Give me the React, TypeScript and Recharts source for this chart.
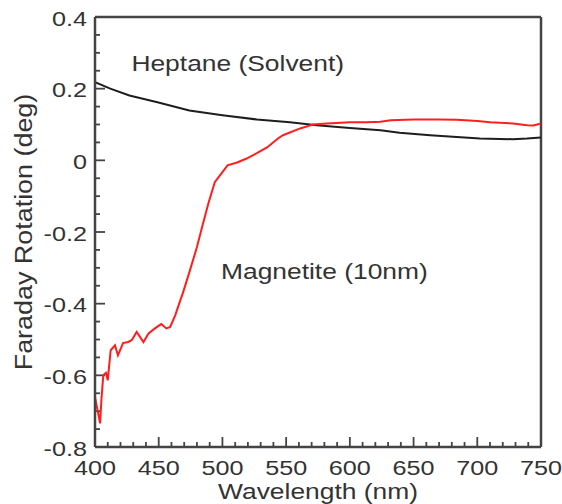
import React from 'react';
import { LineChart, Line, XAxis, YAxis, ReferenceLine, ReferenceDot } from 'recharts';

// Magnetite (10nm) — red curve
const magnetiteWavelength = [
  400, 402, 404, 405, 406.5, 408.6, 410, 412.3, 415.7, 418, 422, 426, 428.8, 432.7, 438, 442, 447, 452,
  456, 459, 463, 467, 469, 474.5, 480, 484, 489, 494, 500, 504, 511.5, 519, 527, 535, 543.6, 547.5, 561,
  571, 582, 600, 613, 624, 632, 650, 670, 684, 700, 710, 728, 739, 744, 750,
];
const magnetiteRotation = [
  -0.661, -0.697, -0.734, -0.67, -0.6, -0.593, -0.614, -0.53, -0.516, -0.544, -0.51, -0.507, -0.502, -0.479,
  -0.507, -0.483, -0.469, -0.457, -0.469, -0.465, -0.432, -0.39, -0.37, -0.307, -0.242, -0.187, -0.12,
  -0.061, -0.033, -0.014, -0.006, 0.005, 0.02, 0.036, 0.061, 0.07, 0.089, 0.1, 0.103, 0.106, 0.106, 0.108,
  0.112, 0.114, 0.114, 0.113, 0.11, 0.106, 0.103, 0.098, 0.097, 0.103,
];

// Heptane (Solvent) — black curve
const heptaneWavelength = [400, 412, 427, 449, 474, 500, 527, 553, 574, 600, 624, 639, 663, 702, 728, 739, 750];
const heptaneRotation = [0.218, 0.2, 0.181, 0.162, 0.139, 0.126, 0.114, 0.106, 0.098, 0.09, 0.084, 0.077, 0.07, 0.061, 0.059, 0.061, 0.064];

const xMajorTicks = [400, 450, 500, 550, 600, 650, 700, 750];
const xMinorTicks = [410, 420, 430, 440, 460, 470, 480, 490, 510, 520, 530, 540, 560, 570, 580, 590, 610, 620, 630, 640, 660, 670, 680, 690, 710, 720, 730, 740];
const yMajorTicks = [-0.8, -0.6, -0.4, -0.2, 0, 0.2, 0.4];
const yMajorLabels = ['-0.8', '-0.6', '-0.4', '-0.2', '0', '0.2', '0.4'];
const yMinorTicks = [-0.75, -0.7, -0.65, -0.55, -0.5, -0.45, -0.35, -0.3, -0.25, -0.15, -0.1, -0.05, 0.05, 0.1, 0.15, 0.25, 0.3, 0.35];

const xTitle = 'Wavelength (nm)';
const yTitle = 'Faraday Rotation (deg)';
const heptaneLabel = 'Heptane (Solvent)';
const magnetiteLabel = 'Magnetite (10nm)';

const X_DOMAIN: [number, number] = [400, 750];
const Y_DOMAIN: [number, number] = [-0.8, 0.4];
const CHART_W = 562;
const CHART_H = 504;
const MARGIN = { top: 17, right: 21, left: 0, bottom: 0 };
const Y_AXIS_W = 95;
const X_AXIS_H = 57;
const PLOT_W = CHART_W - MARGIN.left - MARGIN.right - Y_AXIS_W;
const PLOT_H = CHART_H - MARGIN.top - MARGIN.bottom - X_AXIS_H;

// inward tick lengths in pixels, converted to data units
const MAJOR_PX = 10;
const MINOR_PX = 5;
const xTickLen = (px: number) => (px / PLOT_H) * (Y_DOMAIN[1] - Y_DOMAIN[0]);
const yTickLen = (px: number) => (px / PLOT_W) * (X_DOMAIN[1] - X_DOMAIN[0]);

const magnetiteData = magnetiteWavelength.map((wl, i) => ({ wl, v: magnetiteRotation[i] }));
const heptaneData = heptaneWavelength.map((wl, i) => ({ wl, v: heptaneRotation[i] }));

// tick marks as tiny two-point series drawn through the chart's scales
const xTickMarks = [
  ...xMajorTicks.map((t) => ({ id: `x${t}`, data: [{ wl: t, v: Y_DOMAIN[0] }, { wl: t, v: Y_DOMAIN[0] + xTickLen(MAJOR_PX) }] })),
  ...xMinorTicks.map((t) => ({ id: `x${t}`, data: [{ wl: t, v: Y_DOMAIN[0] }, { wl: t, v: Y_DOMAIN[0] + xTickLen(MINOR_PX) }] })),
];
const yTickMarks = [
  ...yMajorTicks.map((t) => ({ id: `y${t}`, data: [{ wl: X_DOMAIN[0], v: t }, { wl: X_DOMAIN[0] + yTickLen(MAJOR_PX), v: t }] })),
  ...yMinorTicks.map((t) => ({ id: `y${t}`, data: [{ wl: X_DOMAIN[0], v: t }, { wl: X_DOMAIN[0] + yTickLen(MINOR_PX), v: t }] })),
];

const FONT = 'Liberation Sans, Arial, sans-serif';
const TEXT = '#333';
const AXIS = '#444';

const XTickLabel = (props: any) => {
  const x = Number(props.x);
  const y = Number(props.y);
  return (
    <g transform={`translate(${x},${y + 28}) scale(1.2,1)`}>
      <text x={0} y={0} textAnchor="middle" fontFamily={FONT} fontSize={21} fill={TEXT}>
        {props.payload.value}
      </text>
    </g>
  );
};

const YTickLabel = (props: any) => {
  const x = Number(props.x);
  const y = Number(props.y);
  const idx = yMajorTicks.findIndex((t) => Math.abs(t - props.payload.value) < 1e-6);
  return (
    <g transform={`translate(${x - 8},${y + 8.5}) scale(1.2,1)`}>
      <text x={0} y={0} textAnchor="end" fontFamily={FONT} fontSize={21} fill={TEXT}>
        {idx >= 0 ? yMajorLabels[idx] : props.payload.value}
      </text>
    </g>
  );
};

const XTitle = (props: any) => {
  const vb = props.viewBox;
  return (
    <g transform={`translate(${vb.x + vb.width / 2},${vb.y + 52}) scale(1.2,1)`}>
      <text x={0} y={0} textAnchor="middle" fontFamily={FONT} fontSize={22} fill={TEXT}>
        {xTitle}
      </text>
    </g>
  );
};

const YTitle = (props: any) => {
  const vb = props.viewBox;
  return (
    <g transform={`translate(32,${vb.y + vb.height / 2}) rotate(-90) scale(1.17,1)`}>
      <text x={0} y={0} textAnchor="middle" fontFamily={FONT} fontSize={23} fill={TEXT}>
        {yTitle}
      </text>
    </g>
  );
};

const makeAnno = (txt: string) => (props: any) => {
  const vb = props.viewBox;
  return (
    <g transform={`translate(${vb.x + (vb.width || 0) / 2},${vb.y + (vb.height || 0) / 2}) scale(1.2,1)`}>
      <text x={0} y={0} textAnchor="middle" fontFamily={FONT} fontSize={22} fill={TEXT}>
        {txt}
      </text>
    </g>
  );
};

export default function App() {
  return (
    <div style={{ position: 'absolute', left: 0, top: 0 }}>
      <LineChart width={CHART_W} height={CHART_H} margin={MARGIN}>
        <XAxis
          dataKey="wl"
          type="number"
          domain={X_DOMAIN}
          ticks={xMajorTicks}
          interval={0}
          allowDataOverflow
          height={X_AXIS_H}
          tickSize={0}
          tickMargin={0}
          tickLine={false}
          axisLine={{ stroke: AXIS, strokeWidth: 2.5 }}
          tick={(p: any) => <XTickLabel {...p} />}
          label={{ content: (p: any) => <XTitle {...p} /> } as any}
        />
        <YAxis
          type="number"
          domain={Y_DOMAIN}
          ticks={yMajorTicks}
          interval={0}
          allowDataOverflow
          width={Y_AXIS_W}
          tickSize={0}
          tickMargin={0}
          tickLine={false}
          axisLine={{ stroke: AXIS, strokeWidth: 2.5 }}
          tick={(p: any) => <YTickLabel {...p} />}
          label={{ content: (p: any) => <YTitle {...p} /> } as any}
        />
        <ReferenceLine y={Y_DOMAIN[1]} stroke={AXIS} strokeWidth={2.5} />
        <ReferenceLine x={X_DOMAIN[1]} stroke={AXIS} strokeWidth={2.5} />
        {xTickMarks.map((m) => (
          <Line key={m.id} data={m.data} dataKey="v" type="linear" stroke={AXIS} strokeWidth={1.8} dot={false} activeDot={false} isAnimationActive={false} legendType="none" />
        ))}
        {yTickMarks.map((m) => (
          <Line key={m.id} data={m.data} dataKey="v" type="linear" stroke={AXIS} strokeWidth={1.8} dot={false} activeDot={false} isAnimationActive={false} legendType="none" />
        ))}
        <Line data={heptaneData} dataKey="v" type="linear" stroke="#1e1e1e" strokeWidth={2} dot={false} isAnimationActive={false} />
        <Line data={magnetiteData} dataKey="v" type="linear" stroke="#ff1e1e" strokeWidth={2} dot={false} isAnimationActive={false} />
        <ReferenceDot x={512} y={0.25} r={0} fill="none" stroke="none" label={{ content: makeAnno(heptaneLabel) } as any} />
        <ReferenceDot x={580} y={-0.332} r={0} fill="none" stroke="none" label={{ content: makeAnno(magnetiteLabel) } as any} />
      </LineChart>
    </div>
  );
}
